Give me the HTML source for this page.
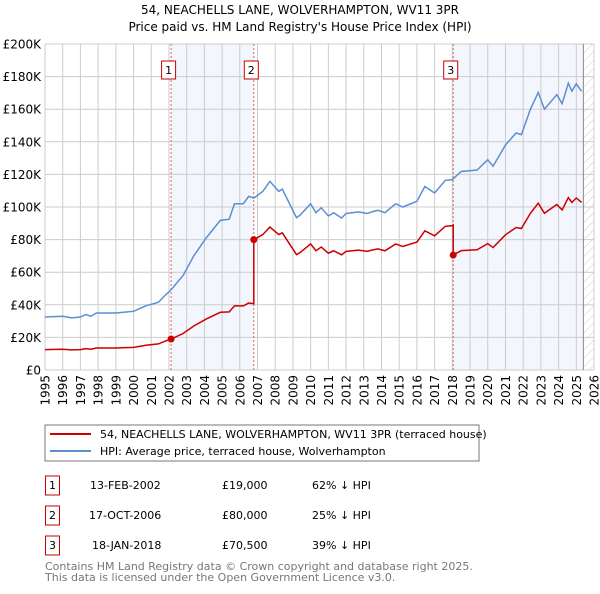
<!DOCTYPE html>
<html><head><meta charset="utf-8"><style>
body{margin:0;background:#fff;font-family:"DejaVu Sans","Liberation Sans",sans-serif;}
svg text{font-family:"DejaVu Sans","Liberation Sans",sans-serif;}
</style></head><body>
<svg id="c" width="600" height="590" xmlns="http://www.w3.org/2000/svg">
<defs><pattern id="hatch" width="6" height="6" patternUnits="userSpaceOnUse" patternTransform="rotate(45)"><line x1="0" y1="0" x2="0" y2="6" stroke="#ccc" stroke-width="1"/></pattern></defs>
<text x="300" y="14" text-anchor="middle" font-size="12">54, NEACHELLS LANE, WOLVERHAMPTON, WV11 3PR</text>
<text x="300" y="31" text-anchor="middle" font-size="12">Price paid vs. HM Land Registry's House Price Index (HPI)</text>
<g id="plot"></g>
<rect x="45" y="425" width="434" height="36" fill="#fff" stroke="#777"/>
<line x1="50" y1="434" x2="91" y2="434" stroke="#cc0000" stroke-width="2"/>
<text x="100" y="438" font-size="11">54, NEACHELLS LANE, WOLVERHAMPTON, WV11 3PR (terraced house)</text>
<line x1="50" y1="451" x2="91" y2="451" stroke="#5b8fd4" stroke-width="2"/>
<text x="100" y="455" font-size="11">HPI: Average price, terraced house, Wolverhampton</text>
<g font-size="11">
<rect x="45.5" y="476" width="14" height="19" fill="none" stroke="#cc0000"/><text x="52.5" y="489" text-anchor="middle">1</text>
<text x="90" y="489">13-FEB-2002</text><text x="222" y="489">£19,000</text><text x="312" y="489">62% ↓ HPI</text>
<rect x="45.5" y="506" width="14" height="19" fill="none" stroke="#cc0000"/><text x="52.5" y="519" text-anchor="middle">2</text>
<text x="89" y="519">17-OCT-2006</text><text x="222" y="519">£80,000</text><text x="312" y="519">25% ↓ HPI</text>
<rect x="45.5" y="536" width="14" height="19" fill="none" stroke="#cc0000"/><text x="52.5" y="549" text-anchor="middle">3</text>
<text x="92" y="549">18-JAN-2018</text><text x="222" y="549">£70,500</text><text x="312" y="549">39% ↓ HPI</text>
</g>
<text x="45" y="570" font-size="11" fill="#777">Contains HM Land Registry data © Crown copyright and database right 2025.</text>
<text x="45" y="581" font-size="11" fill="#777">This data is licensed under the Open Government Licence v3.0.</text>
</svg>
<script>
const hpiDates=[1995,1996,1996.5,1997,1997.3,1997.6,1997.9,1999,1999.5,2000,2000.7,2001.4,2001.8,2002.1,2002.8,2003.4,2004.1,2004.9,2005.4,2005.7,2006.2,2006.5,2006.8,2007.3,2007.7,2008.2,2008.4,2008.9,2009.2,2009.4,2010.0,2010.3,2010.6,2011.0,2011.3,2011.75,2012.0,2012.7,2013.2,2013.45,2013.8,2014.2,2014.8,2015.2,2016.0,2016.45,2017.0,2017.6,2018.0,2018.5,2019.4,2020.0,2020.3,2021.0,2021.6,2021.9,2022.4,2022.85,2023.2,2023.9,2024.2,2024.55,2024.75,2025.0,2025.3];
const hpiValues=[32.5,33,32,32.5,34,33,35,35,35.5,36,39.4,41.5,46,49,58,70,81,91.8,92.5,102,102,106.5,105.5,109.6,115.7,109.6,111,100,93.4,95,102,96.5,99.5,94.5,96.5,93.2,96,97,96,97,98,96.5,102,100,103.5,112.6,108.6,116.3,116.8,121.8,122.7,129,125,138,145.4,144.4,159.7,170.3,160,168.9,163.4,176,171,175.6,171];
const saleDates=[2002.12,2006.79,2018.05];
const salePrices=[19,80,70.5];
const saleLabels=['1','2','3'];
const yTicks=[0,20,40,60,80,100,120,140,160,180,200];
const xStart=1995,xEnd=2026,dataEnd=2025.4;
const L=45,R=594,T=44,B=370;
const X=y=>L+(y-xStart)/(xEnd-xStart)*(R-L);
const Y=v=>B-v/200*(B-T);
const NS='http://www.w3.org/2000/svg';
const g=document.getElementById('plot');
function mk(t,a){const e=document.createElementNS(NS,t);for(const k in a)e.setAttribute(k,a[k]);g.appendChild(e);return e;}
function hpiAt(d){for(let i=0;i<hpiDates.length-1;i++){if(d<=hpiDates[i+1]){const f=(d-hpiDates[i])/(hpiDates[i+1]-hpiDates[i]);return hpiValues[i]+f*(hpiValues[i+1]-hpiValues[i]);}}return hpiValues[hpiValues.length-1];}
let s=mk('rect',{x:X(saleDates[0]),y:T,width:X(saleDates[1])-X(saleDates[0]),height:B-T,fill:'#f3f6fd'});


s=mk('rect',{x:X(saleDates[2]),y:T,width:X(dataEnd)-X(saleDates[2]),height:B-T,fill:'#f3f6fd'});


s=mk('rect',{x:X(dataEnd),y:T,width:R-X(dataEnd),height:B-T,fill:'url(#hatch)'});


for(let yr=xStart;yr<=xEnd;yr++){
 const l=mk('line',{x1:X(yr),x2:X(yr),y1:T,y2:B,stroke:'#ccc','stroke-width':1});
 
 
 const t=mk('text',{x:0,y:0,'font-size':12,'text-anchor':'end',transform:`translate(${X(yr)+4.5},${B+5}) rotate(-90)`});
 t.textContent=yr;
 
 
}
yTicks.forEach(v=>{
 const l=mk('line',{x1:L,x2:R,y1:Y(v),y2:Y(v),stroke:'#ccc','stroke-width':1});
 
 
 const t=mk('text',{x:L-4,y:Y(v)+4.5,'font-size':12,'text-anchor':'end'});
 t.textContent=v===0?'£0':'£'+v+'K';
 
 
});
let ed=mk('line',{x1:X(dataEnd),x2:X(dataEnd),y1:T,y2:B,stroke:'#888','stroke-width':1});


saleDates.forEach((d,i)=>{
 const l=mk('line',{x1:X(d),x2:X(d),y1:T,y2:B,stroke:'#e06060','stroke-width':1,'stroke-dasharray':'2,2'});
 
 
 const r=mk('rect',{x:X(d)-9.5,y:61,width:14,height:18,fill:'#fff',stroke:'#cc0000'});
 
 
 const t=mk('text',{x:X(d)-2.5,y:74,'font-size':11,'text-anchor':'middle'});
 t.textContent=saleLabels[i];
 
 
});
let p=mk('polyline',{points:hpiDates.map((d,i)=>X(d)+','+Y(hpiValues[i])).join(' '),fill:'none',stroke:'#5b8fd4','stroke-width':1.5});


function factor(d){let k=0;for(let i=0;i<saleDates.length;i++)if(d>=saleDates[i])k=i;return salePrices[k]/hpiAt(saleDates[k]);}
let pts=[];
const allD=hpiDates.concat(saleDates).sort((a,b)=>a-b);
allD.forEach(d=>{
 saleDates.forEach((sd,i)=>{if(sd===d&&i>0){pts.push(X(d)+','+Y(hpiAt(d)*salePrices[i-1]/hpiAt(saleDates[i-1])));}});
 pts.push(X(d)+','+Y(hpiAt(d)*factor(d)));
});
p=mk('polyline',{points:pts.join(' '),fill:'none',stroke:'#cc0000','stroke-width':1.5});


saleDates.forEach((d,i)=>{
 const c=mk('circle',{cx:X(d),cy:Y(salePrices[i]),r:3.5,fill:'#cc0000'});
 
 
});
</script>
</body></html>
